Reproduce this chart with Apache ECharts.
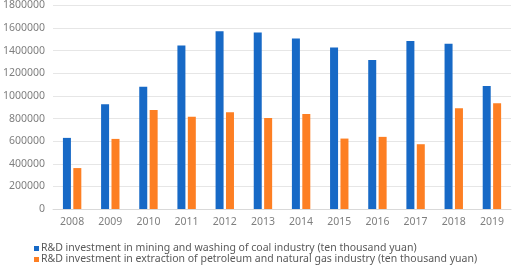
<!DOCTYPE html>
<html>
<head>
<meta charset="utf-8">
<script src="https://cdn.jsdelivr.net/npm/echarts@6/dist/echarts.min.js"></script>
<style>
  html, body { margin: 0; padding: 0; background: #fff; }
  #main { width: 512px; height: 273px; }
</style>
</head>
<body>
<div id="main"></div>
<script>
var years = ['2008', '2009', '2010', '2011', '2012', '2013', '2014', '2015', '2016', '2017', '2018', '2019'];
var coalValues = [629000, 926000, 1082000, 1447000, 1573000, 1561000, 1508000, 1429000, 1317000, 1485000, 1461000, 1088000];
var petroValues = [362000, 620000, 876000, 817000, 856000, 805000, 841000, 623000, 638000, 573000, 891000, 935000];
var coalName = 'R&D investment in mining and washing of coal industry (ten thousand yuan)';
var petroName = 'R&D investment in extraction of petroleum and natural gas industry (ten thousand yuan)';

var font = 'Noto Sans';
var textColor = '#595959';
var axisColor = '#7f7f7f';

function legendItem(name, top) {
  return {
    left: 34,
    top: top,
    itemWidth: 5,
    itemHeight: 5,
    icon: 'rect',
    padding: 0,
    textStyle: { color: textColor, fontSize: 10.5, fontFamily: font, padding: [0, 0, 0, -3] },
    data: [name]
  };
}

var chart = echarts.init(document.getElementById('main'));
chart.setOption({
  animation: false,
  textStyle: { fontFamily: font },
  grid: { left: 51, right: 1, top: 5, bottom: 64, containLabel: false },
  legend: [legendItem(coalName, 243), legendItem(petroName, 254)],
  xAxis: {
    type: 'category',
    data: years,
    axisLine: { lineStyle: { color: '#d9d9d9' } },
    axisTick: { show: false },
    axisLabel: { color: axisColor, fontSize: 10.5, margin: 8 }
  },
  yAxis: {
    type: 'value',
    min: 0,
    max: 1800000,
    interval: 200000,
    axisLine: { show: false },
    axisTick: { show: false },
    axisLabel: { color: axisColor, fontSize: 10.5, margin: 8, formatter: function (v) { return String(v); } },
    splitLine: { lineStyle: { color: '#e6e6e6' } }
  },
  series: [
    {
      name: coalName,
      type: 'bar',
      data: coalValues,
      barWidth: 8,
      barGap: '30%',
      itemStyle: { color: '#1769c6' }
    },
    {
      name: petroName,
      type: 'bar',
      data: petroValues,
      barWidth: 8,
      itemStyle: { color: '#fd7f23' }
    }
  ]
});
</script>
</body>
</html>
